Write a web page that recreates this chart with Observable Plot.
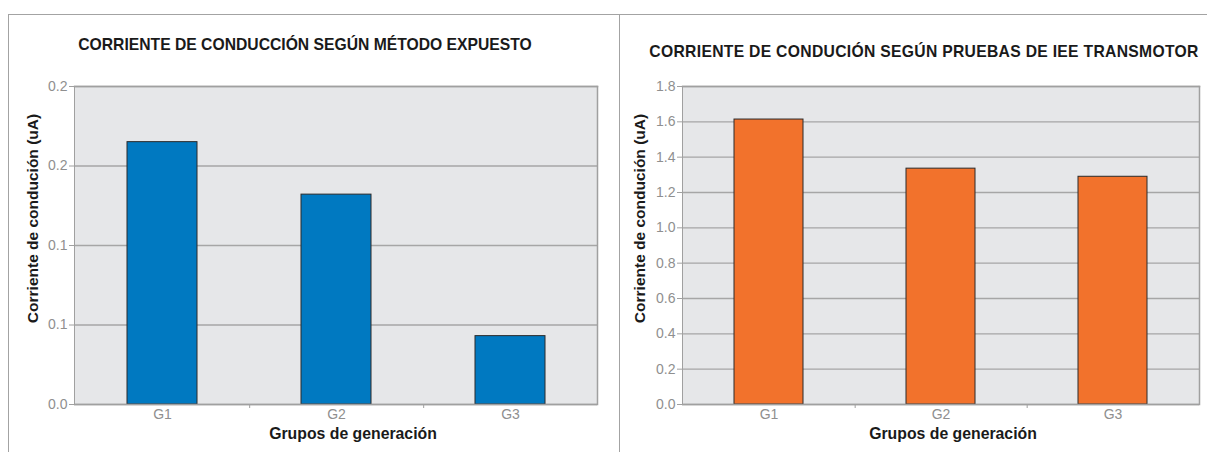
<!DOCTYPE html>
<html><head><meta charset="utf-8">
<script src="https://cdn.jsdelivr.net/npm/d3@7"></script>
<script src="https://cdn.jsdelivr.net/npm/@observablehq/plot@0.6"></script>
<style>
body{margin:0;background:#fff;font-family:"Liberation Sans",Arial,sans-serif;}
#wrap{position:relative;width:1207px;height:452px;overflow:hidden;background:#fff;}
.vline{position:absolute;top:14px;bottom:0;width:0;border-left:1.5px solid #a3a3a3;}
.hline{position:absolute;top:14px;left:8px;right:0;height:0;border-top:1.5px solid #a3a3a3;}
.title{position:absolute;font-weight:bold;font-size:15.7px;color:#1a1a1a;white-space:nowrap;transform:translate(-50%,-50%);}
.chart{position:absolute;top:15px;}
</style></head><body>
<div id="wrap">
 <div class="hline"></div>
 <div class="vline" style="left:8px"></div>
 <div class="vline" style="left:619px"></div>
 <div class="title" style="left:305px;top:45px" id="t1"></div>
 <div class="title" style="left:924px;top:52px;letter-spacing:0.3px" id="t2"></div>
 <div class="chart" id="c1" style="left:9px"></div>
 <div class="chart" id="c2" style="left:621px"></div>
</div>
<script>
const groups = ["G1", "G2", "G3"];
const metodoValues = [0.165, 0.132, 0.043];
const pruebasValues = [1.613, 1.335, 1.289];
const leftTicks = [0, 0.05, 0.1, 0.15, 0.2];
const leftTickLabels = ["0.0", "0.1", "0.1", "0.2", "0.2"];
const rightTicks = [0, 0.2, 0.4, 0.6, 0.8, 1.0, 1.2, 1.4, 1.6, 1.8];
const rightTickLabels = ["0.0", "0.2", "0.4", "0.6", "0.8", "1.0", "1.2", "1.4", "1.6", "1.8"];
const leftTitle = "CORRIENTE DE CONDUCCIÓN SEGÚN MÉTODO EXPUESTO";
const rightTitle = "CORRIENTE DE CONDUCIÓN SEGÚN PRUEBAS DE IEE TRANSMOTOR";
const yTitle = "Corriente de condución (uA)";
const xTitle = "Grupos de generación";

document.getElementById("t1").textContent = leftTitle;
document.getElementById("t2").textContent = rightTitle;

function makeChart(o) {
  const data = groups.map((g, i) => ({group: g, value: o.values[i]}));
  const plotW = o.width - o.marginLeft - o.marginRight;
  const plotH = o.height - o.marginTop - o.marginBottom;
  const step = plotW / groups.length;
  const font = "'Liberation Sans', Arial, sans-serif";
  return Plot.plot({
    width: o.width, height: o.height,
    marginLeft: o.marginLeft, marginRight: o.marginRight,
    marginTop: o.marginTop, marginBottom: o.marginBottom,
    style: {fontFamily: font, background: "transparent", overflow: "visible"},
    x: {domain: groups, paddingInner: 0.6, paddingOuter: 0.3, align: 0.5},
    y: {domain: [0, o.ticks[o.ticks.length - 1]]},
    marks: [
      Plot.frame({fill: "#e6e7e9", stroke: null}),
      Plot.ruleY(o.ticks, {stroke: "#a6a6a6", strokeWidth: 1.3}),
      Plot.frame({anchor: "top", stroke: "#a0a0a0", strokeWidth: 1.5}),
      Plot.frame({anchor: "right", stroke: "#a0a0a0", strokeWidth: 1.5}),
      Plot.frame({anchor: "left", stroke: "#a0a0a0", strokeWidth: 1}),
      Plot.barY(data, {x: "group", y: "value", fill: o.fill, stroke: "#2a2a2a", strokeWidth: 1}),
      Plot.ruleY([0], {stroke: "#a0a0a0", strokeWidth: 1.3}),
      Plot.axisY({ticks: o.ticks, tickFormat: d => o.tickLabels[o.ticks.indexOf(d)], tickSize: 5, tickPadding: 2,
        stroke: "#a0a0a0", color: "#8f8f8f", fontSize: 14, label: null}),
      Plot.axisX({tickSize: 0, tickPadding: 5, color: "#8f8f8f", fontSize: 14, label: null}),
      Plot.tickX(groups.slice(0, groups.length - 1), {x: d => d, dx: step / 2, insetTop: plotH, insetBottom: -4, stroke: "#a0a0a0"}),
      Plot.text([xTitle], {frameAnchor: "bottom", textAnchor: "middle", lineAnchor: "middle", dy: 29, dx: o.xTitleDx, fontWeight: "bold", fontSize: 15.8, fill: "#1a1a1a"}),
      Plot.text([yTitle], {frameAnchor: "left", textAnchor: "middle", lineAnchor: "middle", rotate: -90, dx: o.yTitleDx, dy: -27, fontWeight: "bold", fontSize: 15.5, fill: "#1a1a1a"})
    ]
  });
}

document.getElementById("c1").append(makeChart({
  values: metodoValues, fill: "#0079c1", ticks: leftTicks, tickLabels: leftTickLabels,
  width: 600, height: 437, marginLeft: 65, marginRight: 12, marginTop: 71, marginBottom: 48,
  xTitleDx: 17, yTitleDx: -41
}));
document.getElementById("c2").append(makeChart({
  values: pruebasValues, fill: "#f2722c", ticks: rightTicks, tickLabels: rightTickLabels,
  width: 586, height: 437, marginLeft: 61, marginRight: 8, marginTop: 71, marginBottom: 48,
  xTitleDx: 12, yTitleDx: -42
}));
</script>
</body></html>
